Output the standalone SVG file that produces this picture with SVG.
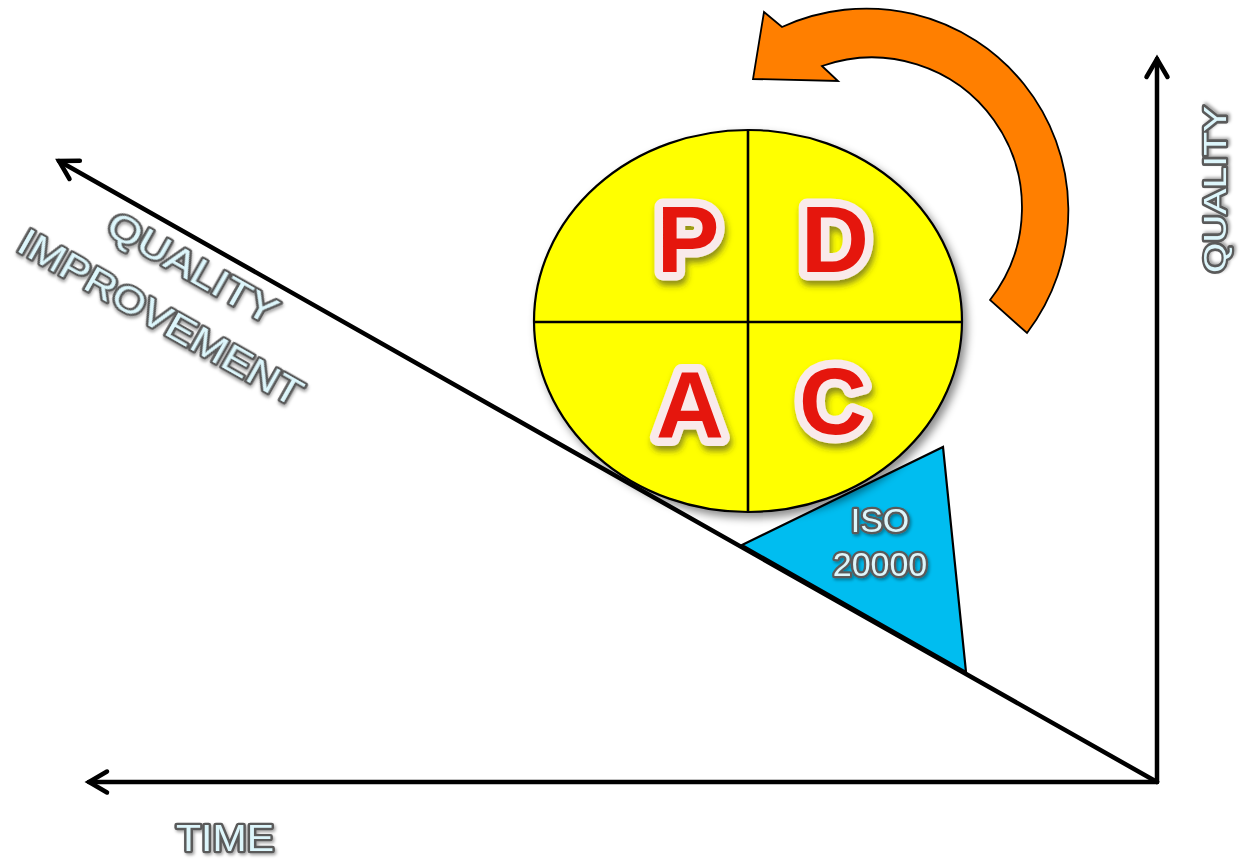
<svg xmlns="http://www.w3.org/2000/svg" width="1241" height="859" viewBox="0 0 1241 859">
<style>
.axis{fill:none;stroke:#000;stroke-width:4.5;stroke-linecap:round}
.letter{font-family:"Liberation Sans",Arial,sans-serif;font-weight:bold;font-size:94px;fill:#E5160C;stroke:#F9EAEA;stroke-width:17;stroke-linejoin:round;paint-order:stroke;text-anchor:middle;filter:url(#lshadow)}
.lbl{font-family:"Liberation Sans",Arial,sans-serif;fill:#DDF6FB;stroke:#5A5A5A;stroke-width:4.6;stroke-linejoin:round;paint-order:stroke;filter:url(#tshadow)}
</style>
<defs>
<marker id="open" markerUnits="userSpaceOnUse" markerWidth="40" markerHeight="40" viewBox="-30 -20 40 40" refX="0" refY="0" orient="auto">
<path d="M-18,-10.5 L0,0 L-18,10.5" fill="none" stroke="#000" stroke-width="4.5" stroke-linecap="round" stroke-linejoin="miter"/>
</marker>
<filter id="eshadow" x="-10%" y="-10%" width="125%" height="125%">
<feDropShadow dx="4" dy="5" stdDeviation="4" flood-color="#000" flood-opacity="0.45"/>
</filter>
<filter id="lshadow" x="-20%" y="-20%" width="150%" height="150%">
<feDropShadow dx="2" dy="5" stdDeviation="3" flood-color="#333" flood-opacity="0.55"/>
</filter>
<filter id="tshadow" x="-10%" y="-20%" width="130%" height="150%">
<feDropShadow dx="1.5" dy="2" stdDeviation="1.5" flood-color="#000" flood-opacity="0.35"/>
</filter>
</defs>
<rect width="1241" height="859" fill="#fff"/>

<g id="connectors">
<line class="axis" x1="1157" y1="782" x2="89" y2="782" marker-end="url(#open)"/>
<line class="axis" x1="1157" y1="782" x2="1157" y2="59" marker-end="url(#open)"/>
<line class="axis" x1="1157" y1="782" x2="59" y2="161" marker-end="url(#open)"/>
</g>

<g id="iso-triangle">
<polygon points="742,545 943,447 966,672" fill="#00BDF0" stroke="#000" stroke-width="2.2" stroke-linejoin="miter"/>
<text class="lbl" x="880" y="532" font-size="34" text-anchor="middle">ISO</text>
<text class="lbl" x="880" y="576" font-size="34" text-anchor="middle">20000</text>
</g>

<g id="pdca-circle">
<ellipse cx="748" cy="321" rx="214" ry="191" fill="#FFFF00" stroke="#000" stroke-width="2.2" filter="url(#eshadow)"/>
<line x1="748" y1="130" x2="748" y2="512" stroke="#000" stroke-width="2.6"/>
<line x1="534" y1="322" x2="962" y2="322" stroke="#000" stroke-width="2.6"/>
<text class="letter" x="688" y="272">P</text>
<text class="letter" x="835" y="272">D</text>
<text class="letter" x="690" y="438">A</text>
<text class="letter" x="833" y="434">C</text>
</g>

<g id="cycle-arrow">
<path d="M1027,333 A202,202 0 0 0 782,27 L764,12 L753,79 L838,81 L822,66 A150,150 0 0 1 990,300 Z" fill="#FF7F00" stroke="#000" stroke-width="1.8" stroke-linejoin="miter"/>
</g>

<g id="label-quality-improvement" transform="translate(15,250) rotate(29.5)">
<text class="lbl" x="69" y="-59" font-size="37" textLength="189" lengthAdjust="spacingAndGlyphs">QUALITY</text>
<text class="lbl" x="0" y="0" font-size="37" textLength="320" lengthAdjust="spacingAndGlyphs">IMPROVEMENT</text>
</g>

<g id="label-quality" transform="translate(1226,273) rotate(-90)">
<text class="lbl" x="0" y="0" font-size="32" textLength="167" lengthAdjust="spacingAndGlyphs">QUALITY</text>
</g>

<g id="label-time">
<text class="lbl" x="176" y="851" font-size="37" textLength="98" lengthAdjust="spacingAndGlyphs">TIME</text>
</g>
</svg>
